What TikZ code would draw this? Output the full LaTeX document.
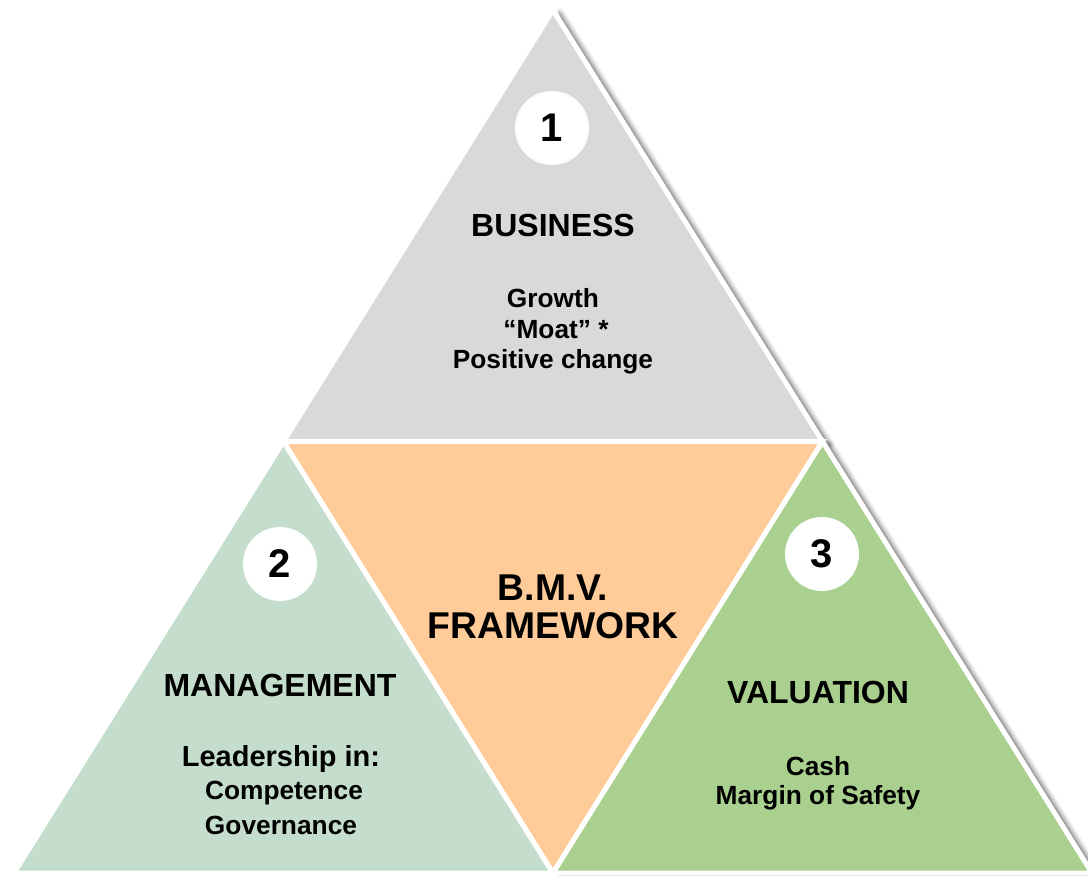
\documentclass[tikz,border=0pt]{standalone}
\usepackage{fontspec}
\setmainfont{Liberation Sans}
\usetikzlibrary{shadows.blur}
\definecolor{cgray}{HTML}{D9D9D9}
\definecolor{corange}{HTML}{FFCC99}
\definecolor{cleft}{HTML}{C4DDCD}
\definecolor{cright}{HTML}{A9D08E}
\begin{document}
\begin{tikzpicture}[x=1pt,y=-1pt,
  tri/.style={draw=white,line width=5pt,line join=miter},
  shad/.style={blur shadow={shadow xshift=7pt,shadow yshift=-3pt,shadow blur radius=5pt,shadow opacity=60}},
  numc/.style={circle,fill=white,minimum size=74pt,inner sep=0pt,font=\fontsize{40}{44}\selectfont\bfseries},
  head/.style={font=\fontsize{32}{36}\selectfont\bfseries,inner sep=0pt},
  body/.style={font=\fontsize{26.3}{32}\selectfont\bfseries,inner sep=0pt,align=center},
  bodyl/.style={font=\fontsize{29}{32}\selectfont\bfseries,inner sep=0pt,align=center},
  big/.style={font=\fontsize{37.3}{39}\selectfont\bfseries,inner sep=0pt,align=center}]
\useasboundingbox (0,0) rectangle (1088,876);
\coordinate (A) at (553,10);
\coordinate (BL) at (14,873);
\coordinate (BR) at (1092,873);
\coordinate (ML) at (283.5,441.5);
\coordinate (MR) at (822.5,441.5);
\coordinate (MB) at (553,873);
\fill[cgray,shad] (A) -- (MR) -- (ML) -- cycle;
\draw[tri,fill=cgray] (A) -- (MR) -- (ML) -- cycle;
\fill[cright,shad] (MR) -- (BR) -- (MB) -- cycle;
\draw[tri,fill=cleft] (ML) -- (MB) -- (BL) -- cycle;
\draw[tri,fill=corange] (ML) -- (MR) -- (MB) -- cycle;
\draw[tri,fill=cright] (MR) -- (BR) -- (MB) -- cycle;
\node[numc] (n1) at (552,128) {1};
\node[numc] (n2) at (280,564) {2};
\node[numc] (n3) at (822,554) {3};
\node[head] (t1) at (553,225) {BUSINESS};
\node[body] (b1a) at (553,298) {Growth};
\node[body] (b1b) at (556,330) {“Moat” *};
\node[body] (b1c) at (553,362) {Positive change};
\node[big] (c1) at (553,588) {B.M.V.};
\node[big] (c2) at (553,626) {FRAMEWORK};
\node[head] (t2) at (280,685) {MANAGEMENT};
\node[bodyl] (b2a) at (281,759) {Leadership in:};
\node[body] (b2b) at (284,793) {Competence};
\node[body] (b2c) at (281,825) {Governance};
\node[head] (t3) at (818,692) {VALUATION};
\node[body] (b3a) at (818,766) {Cash};
\node[body] (b3b) at (818,798) {Margin of Safety};
\end{tikzpicture}
\end{document}
